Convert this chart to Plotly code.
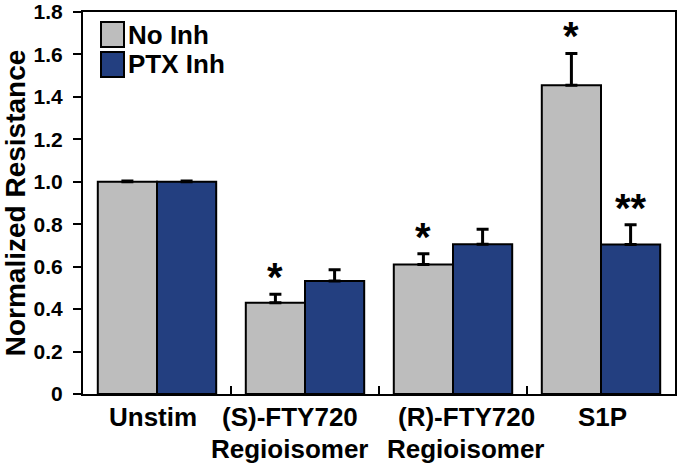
import plotly.graph_objects as go

# data
categories = ["Unstim", "(S)-FTY720", "(R)-FTY720", "S1P"]
sub_labels = ["", "Regioisomer", "Regioisomer", ""]
no_inh = [1.00, 0.43, 0.61, 1.455]
no_inh_err = [0.004, 0.04, 0.051, 0.15]
ptx_inh = [1.00, 0.533, 0.706, 0.705]
ptx_inh_err = [0.004, 0.052, 0.07, 0.093]
no_inh_sig = ["", "*", "*", "*"]
ptx_inh_sig = ["", "", "", "**"]
series_names = ["No Inh", "PTX Inh"]
y_ticks = [0, 0.2, 0.4, 0.6, 0.8, 1.0, 1.2, 1.4, 1.6, 1.8]
y_ticktext = ["0", "0.2", "0.4", "0.6", "0.8", "1.0", "1.2", "1.4", "1.6", "1.8"]

GRAY = "#bdbdbd"
BLUE = "#233f80"
FONT = "Arial, Liberation Sans, sans-serif"

W, H = 680, 469
L, R, T, B = 83, 5, 12, 75
pw, ph = W - L - R, H - T - B


def px(x):
    return (x - L) / pw


def py(y):
    return (H - B - y) / ph


fig = go.Figure()
for name, vals, errs, col in [(series_names[0], no_inh, no_inh_err, GRAY),
                              (series_names[1], ptx_inh, ptx_inh_err, BLUE)]:
    fig.add_trace(go.Bar(
        x=categories, y=vals, name=name, showlegend=False,
        marker=dict(color=col, line=dict(color="black", width=2)),
        error_y=dict(type="data", symmetric=False, array=errs,
                     arrayminus=[0] * len(errs), color="black",
                     thickness=3, width=6),
    ))

annotations = []
# significance stars
for i in range(len(categories)):
    for off, sig, v, e in [(-0.2, no_inh_sig[i], no_inh[i], no_inh_err[i]),
                           (0.2, ptx_inh_sig[i], ptx_inh[i], ptx_inh_err[i])]:
        if sig:
            annotations.append(dict(
                x=i + off, y=v + e, xref="x", yref="y", text="<b>%s</b>" % sig,
                showarrow=False, yanchor="bottom", yshift=-7,
                font=dict(family=FONT, size=40, color="black")))

# category labels (placed by hand in the original)
label_shift = [-4, -15, 13, 1]
for i in range(len(categories)):
    for txt, dy in [(categories[i], -6), (sub_labels[i], -38)]:
        if txt:
            annotations.append(dict(
                x=i, y=0, xref="x", yref="y", text="<b>%s</b>" % txt,
                showarrow=False, yanchor="top", yshift=dy, xshift=label_shift[i],
                font=dict(family=FONT, size=26, color="black")))

# legend drawn by hand to get the large square swatches
shapes = []
for k, (name, col) in enumerate(zip(series_names, [GRAY, BLUE])):
    top = 22 + k * 30
    shapes.append(dict(type="rect", xref="paper", yref="paper",
                       x0=px(101), x1=px(124), y0=py(top + 25), y1=py(top),
                       fillcolor=col, line=dict(color="black", width=2)))
    annotations.append(dict(
        x=px(126), y=py(top + 12.5), xref="paper", yref="paper",
        text="<b>%s</b>" % name, showarrow=False,
        xanchor="left", yanchor="middle",
        font=dict(family=FONT, size=26, color="black")))

fig.update_layout(
    width=W, height=H,
    margin=dict(l=L, r=R, t=T, b=B, autoexpand=False),
    paper_bgcolor="white", plot_bgcolor="white",
    barmode="group", bargap=0.2, bargroupgap=0,
    annotations=annotations, shapes=shapes,
    font=dict(family=FONT, color="black"),
    xaxis=dict(
        showline=True, linecolor="black", linewidth=2, mirror=True,
        ticks="inside", tickson="boundaries", ticklen=8, tickwidth=2,
        tickcolor="black", showticklabels=False, showgrid=False,
        automargin=False,
    ),
    yaxis=dict(
        range=[0, 1.8], tickvals=y_ticks,
        ticktext=["<b>%s</b>" % t for t in y_ticktext],
        showline=True, linecolor="black", linewidth=2, mirror=True,
        ticks="outside", ticklen=8, tickwidth=2, tickcolor="black",
        ticklabelstandoff=6, ticklabeloverflow="allow",
        tickfont=dict(family=FONT, size=21, color="black"),
        showgrid=False, zeroline=False, automargin=False,
        title=dict(text="<b>Normalized Resistance</b>", standoff=9,
                   font=dict(family=FONT, size=28, color="black")),
    ),
)

# drop the default body margin so the figure sits at the window's corner
fig.write_html("out.html", config={"displayModeBar": False},
               post_script="document.body.style.margin='0';")
